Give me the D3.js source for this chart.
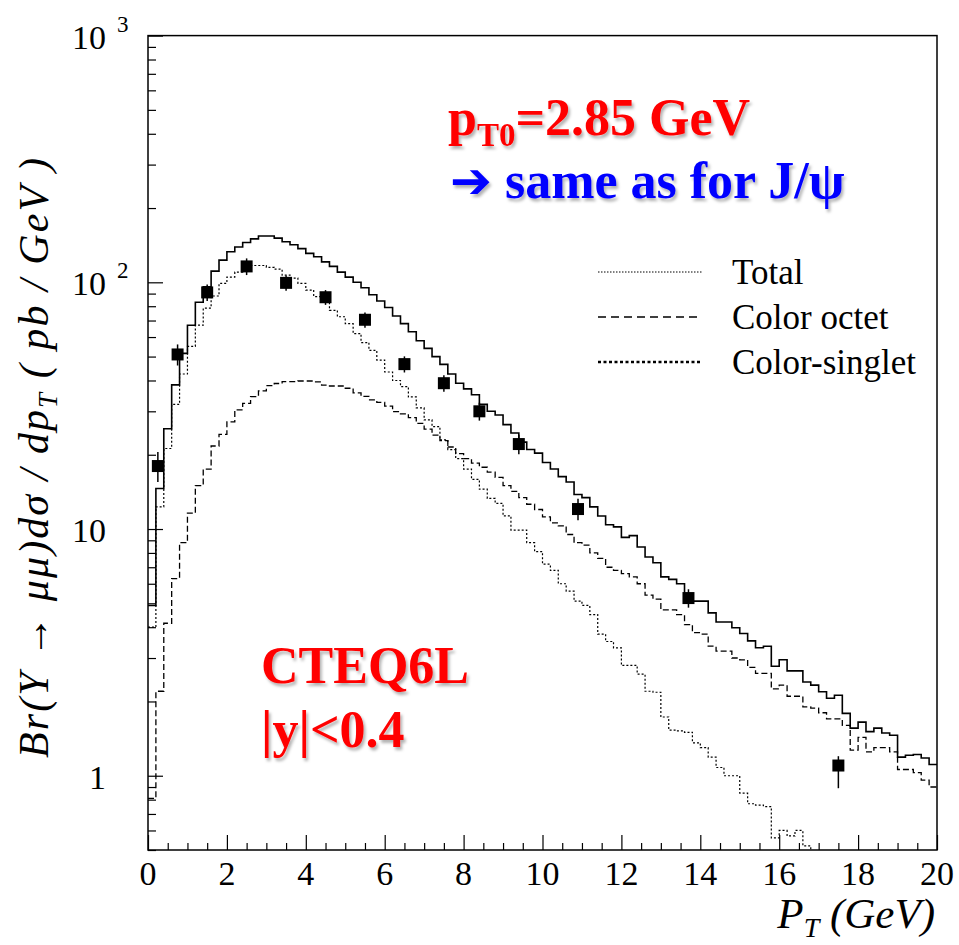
<!DOCTYPE html>
<html>
<head>
<meta charset="utf-8">
<script src="https://cdn.jsdelivr.net/npm/d3@7"></script>
<style>
  body { margin: 0; background: #fff; }
</style>
</head>
<body>
<div id="chart"></div>
<script>
// frame + plot box (pixels)
const FRAME_WIDTH = 959;
const FRAME_HEIGHT = 945;
const PLOT = {left: 148, right: 937, top: 35.6, bottom: 850};
const SERIF = "'Liberation Serif'";

// histogram bins are 0.2 GeV wide, starting at pT = 0
const BIN_W = 0.2;

// total (solid)
const total = [4.9, 14.6, 25.5, 38.4, 51.5, 67, 83, 96, 111, 123,
  133, 139, 145, 150, 154, 154, 151, 146, 142, 137,
  131, 127, 121, 116, 110, 105, 100, 95, 89, 84,
  79, 73, 68, 63, 58, 54, 50, 46.5, 42.5, 39,
  37, 35, 32, 30, 29, 26.5, 24.5, 22.5, 21, 20.3,
  18.6, 17.5, 16.3, 15.5, 13.8, 13.4, 12.3, 11.3, 10.4, 10.2,
  9.25, 9.4, 8.45, 7.7, 7.3, 6.4, 6.25, 6.0, 5.2, 5.1,
  5.1, 4.57, 4.2, 4.2, 3.98, 3.77, 3.52, 3.3, 3.35, 2.78,
  2.95, 2.66, 2.66, 2.4, 2.33, 2.19, 2.06, 2.12, 1.79, 1.56,
  1.65, 1.51, 1.56, 1.49, 1.46, 1.19, 1.21, 1.22, 1.18, 1.11];

// color octet (dashed)
const octet = [0.81, 2.2, 4.15, 6.3, 8.8, 11.6, 15.0, 17.5, 21.7, 24.2,
  27.2, 30.4, 32.3, 34.4, 36.3, 38.1, 38.9, 39.6, 39.6, 39.8,
  39.8, 39.5, 38.3, 38.0, 38.0, 37.2, 35.6, 34.5, 33.4, 32.6,
  31.5, 29.9, 29.3, 28.3, 26.8, 25.4, 24.0, 22.8, 21.5, 20.2,
  19.3, 18.5, 17.8, 17.0, 16.2, 15.0, 14.2, 13.4, 12.6, 12.0,
  11.2, 10.6, 10.3, 9.5, 8.8, 8.6, 8.0, 7.6, 7.0, 6.8,
  6.6, 6.4, 6.0, 5.4, 5.2, 4.7, 4.7, 4.5, 4.1, 3.8,
  3.75, 3.35, 3.2, 3.2, 3.0, 2.95, 2.75, 2.6, 2.6, 2.25,
  2.33, 2.1, 2.1, 1.9, 1.88, 1.8, 1.7, 1.7, 1.6, 1.27,
  1.43, 1.25, 1.3, 1.3, 1.25, 1.06, 1.06, 1.03, 0.96, 0.9];

// color singlet (fine dots) - runs off the bottom after ~17 GeV
const singlet = [4.0, 12.3, 21.2, 32, 42.5, 55, 67, 78.6, 88, 99,
  105, 110, 115, 117, 117, 115, 113, 107, 104, 99,
  93, 87.5, 83, 77, 72.5, 68, 62, 57, 53, 48.4,
  43.3, 40, 37.8, 34.3, 31, 27.7, 26, 23, 21, 19.3,
  17.5, 15.9, 14.5, 13.3, 12.7, 11.3, 9.9, 9.9, 8.8, 8.1,
  7.2, 6.8, 6.0, 5.6, 5.1, 4.9, 4.5, 3.75, 3.5, 3.3,
  2.8, 2.8, 2.58, 2.2, 2.18, 1.73, 1.53, 1.52, 1.5, 1.36,
  1.3, 1.19, 1.08, 1.0, 1.0, 0.85, 0.77, 0.76, 0.75, 0.56,
  0.6, 0.57, 0.6, 0.52, 0.45];

// data points
const dataPt = [0.25, 0.75, 1.5, 2.5, 3.5, 4.5, 5.5, 6.5, 7.5, 8.4, 9.4, 10.9, 13.7, 17.5];
const dataVal = [18, 51, 91, 116, 99.5, 87, 70.5, 46.6, 39, 30, 22.1, 12.05, 5.25, 1.1];
const dataErrUp = [2.5, 5, 7, 9, 7, 6, 5, 3.5, 3, 2.5, 2, 1.2, 0.45, 0.1];
const dataErrDn = [2.5, 5, 7, 9, 7, 6, 5, 3.5, 3, 2.5, 2, 1.2, 0.45, 0.21];

// ticks
const xMajor = [0, 2, 4, 6, 8, 10, 12, 14, 16, 18, 20];
const xMinor = d3.range(0, 20.01, 0.5).filter(v => v % 2 !== 0);
const yMajor = [1, 10, 100, 1000];
const yLabelBase = ["1", "10", "10", "10"];
const yLabelExp = ["", "", "2", "3"];
const yMinor = [0.5, 0.6, 0.7, 0.8, 0.9, 2, 3, 4, 5, 6, 7, 8, 9,
  20, 30, 40, 50, 60, 70, 80, 90, 200, 300, 400, 500, 600, 700, 800, 900];

const legendNames = ["Total", "Color octet", "Color-singlet"];

const FRAME = d3.select("#chart")
  .append("svg")
  .attr("width", FRAME_WIDTH)
  .attr("height", FRAME_HEIGHT);

const X_SCALE = d3.scaleLinear().domain([0, 20]).range([PLOT.left, PLOT.right]);
const Y_SCALE = d3.scaleLog().domain([0.5, 1000]).range([PLOT.bottom, PLOT.top]);

const defs = FRAME.append("defs");
defs.append("clipPath").attr("id", "plotclip")
  .append("rect")
  .attr("x", PLOT.left).attr("y", PLOT.top)
  .attr("width", PLOT.right - PLOT.left)
  .attr("height", PLOT.bottom - PLOT.top);

// soft shadow like the slide text
defs.append("filter").attr("id", "shadow")
  .attr("x", "-10%").attr("y", "-10%").attr("width", "130%").attr("height", "140%")
  .append("feDropShadow")
  .attr("dx", 2).attr("dy", 3).attr("stdDeviation", 1.5)
  .attr("flood-color", "#000").attr("flood-opacity", 0.3);

// axes: ticks point inward
FRAME.append("g")
  .attr("transform", `translate(0,${PLOT.bottom})`)
  .call(d3.axisBottom(X_SCALE).tickValues(xMajor).tickSize(-15).tickFormat(""))
  .call(g => g.select(".domain").remove());
FRAME.append("g")
  .attr("transform", `translate(0,${PLOT.bottom})`)
  .call(d3.axisBottom(X_SCALE).tickValues(xMinor).tickSize(-7).tickFormat(""))
  .call(g => g.select(".domain").remove());
FRAME.append("g")
  .attr("transform", `translate(${PLOT.left},0)`)
  .call(d3.axisLeft(Y_SCALE).tickValues(yMajor).tickSize(-15).tickFormat(""))
  .call(g => g.select(".domain").remove());
FRAME.append("g")
  .attr("transform", `translate(${PLOT.left},0)`)
  .call(d3.axisLeft(Y_SCALE).tickValues(yMinor).tickSize(-8).tickFormat(""))
  .call(g => g.select(".domain").remove());
FRAME.selectAll(".tick line").attr("stroke", "#000").attr("stroke-width", 1.2);

// x tick labels
FRAME.selectAll(".xlab")
  .data(xMajor)
  .enter()
  .append("text")
    .attr("x", d => X_SCALE(d))
    .attr("y", 885)
    .attr("text-anchor", "middle")
    .style("font-family", SERIF)
    .attr("font-size", 34)
    .text(d => d);

// y tick labels (10 with exponent)
yMajor.forEach((v, i) => {
  FRAME.append("text")
    .attr("x", 106)
    .attr("y", Y_SCALE(v) + 13)
    .attr("text-anchor", "end")
    .style("font-family", SERIF)
    .attr("font-size", 34)
    .text(yLabelBase[i]);
  if (yLabelExp[i] !== "") {
    FRAME.append("text")
      .attr("x", 117)
      .attr("y", Y_SCALE(v) - 4)
      .style("font-family", SERIF)
      .attr("font-size", 23)
      .text(yLabelExp[i]);
  }
});

// histograms
function histLine(vals) {
  let pts = vals.map((v, i) => [i * BIN_W, v]);
  pts.push([vals.length * BIN_W, vals[vals.length - 1]]);
  return d3.line()
    .x(d => X_SCALE(d[0]))
    .y(d => Y_SCALE(d[1]))
    .curve(d3.curveStepAfter)(pts);
}

const plotG = FRAME.append("g").attr("clip-path", "url(#plotclip)");

plotG.append("path")
  .attr("d", histLine(singlet))
  .attr("fill", "none")
  .attr("stroke", "#000")
  .attr("stroke-width", 1.2)
  .attr("stroke-dasharray", "2,2");

plotG.append("path")
  .attr("d", histLine(octet))
  .attr("fill", "none")
  .attr("stroke", "#000")
  .attr("stroke-width", 1.3)
  .attr("stroke-dasharray", "6,3");

plotG.append("path")
  .attr("d", histLine(total))
  .attr("fill", "none")
  .attr("stroke", "#000")
  .attr("stroke-width", 1.6);

// data points with error bars
dataPt.forEach((p, i) => {
  plotG.append("line")
    .attr("x1", X_SCALE(p)).attr("x2", X_SCALE(p))
    .attr("y1", Y_SCALE(dataVal[i] + dataErrUp[i]))
    .attr("y2", Y_SCALE(dataVal[i] - dataErrDn[i]))
    .attr("stroke", "#000")
    .attr("stroke-width", 1.5);
  plotG.append("rect")
    .attr("x", X_SCALE(p) - 6)
    .attr("y", Y_SCALE(dataVal[i]) - 6)
    .attr("width", 12)
    .attr("height", 12)
    .attr("fill", "#000");
});

// frame box
FRAME.append("rect")
  .attr("x", PLOT.left).attr("y", PLOT.top)
  .attr("width", PLOT.right - PLOT.left)
  .attr("height", PLOT.bottom - PLOT.top)
  .attr("fill", "none")
  .attr("stroke", "#000")
  .attr("stroke-width", 1.5);

// legend
const legY = [272, 317, 362];
const legDash = ["1.5,1.5", "8,5", "3,2.5"];
const legWidth = [1, 1.4, 2.6];
legendNames.forEach((name, i) => {
  FRAME.append("line")
    .attr("x1", 598).attr("x2", 702)
    .attr("y1", legY[i]).attr("y2", legY[i])
    .attr("stroke", "#000")
    .attr("stroke-width", legWidth[i])
    .attr("stroke-dasharray", legDash[i]);
  FRAME.append("text")
    .attr("x", 732)
    .attr("y", legY[i] + 12)
    .style("font-family", SERIF)
    .attr("font-size", 35)
    .text(name);
});

// axis titles
FRAME.append("text")
  .attr("x", 935)
  .attr("y", 928)
  .attr("text-anchor", "end")
  .style("font-family", SERIF)
  .attr("font-size", 43)
  .attr("font-style", "italic")
  .call(t => {
    t.append("tspan").text("P");
    t.append("tspan").attr("font-size", 28).attr("dy", 9).text("T");
    t.append("tspan").attr("dy", -9).text(" (GeV)");
  });

FRAME.append("text")
  .attr("transform", "translate(48,758) rotate(-90)")
  .style("font-family", SERIF)
  .attr("font-size", 42)
  .attr("font-style", "italic")
  .attr("textLength", 600)
  .attr("lengthAdjust", "spacing")
  .call(t => {
    t.append("tspan").text("Br(Υ \u2192 μμ)dσ / dp");
    t.append("tspan").attr("font-size", 27).attr("dy", 9).text("T");
    t.append("tspan").attr("dy", -9).text(" ( pb / GeV )");
  });

// annotations
FRAME.append("text")
  .attr("x", 448).attr("y", 135)
  .style("font-family", SERIF)
  .attr("font-size", 52).attr("font-weight", "bold")
  .attr("fill", "#ff0000")
  .attr("filter", "url(#shadow)")
  .call(t => {
    t.append("tspan").text("p");
    t.append("tspan").attr("font-size", 33).attr("dy", 11).text("T0");
    t.append("tspan").attr("dy", -11).text("=2.85 GeV");
  });

FRAME.append("text")
  .attr("x", 450).attr("y", 198)
  .style("font-family", SERIF)
  .attr("font-size", 52).attr("font-weight", "bold")
  .attr("fill", "#0000ff")
  .attr("filter", "url(#shadow)")
  .call(t => {
    t.append("tspan").style("font-family", "'DejaVu Sans'").attr("font-size", 50).text("\u2794");
    t.append("tspan").text(" same as for J/ψ");
  });

FRAME.append("text")
  .attr("x", 261).attr("y", 683)
  .style("font-family", SERIF)
  .attr("font-size", 52).attr("font-weight", "bold")
  .attr("fill", "#ff0000")
  .attr("filter", "url(#shadow)")
  .text("CTEQ6L");

FRAME.append("text")
  .attr("x", 261).attr("y", 747)
  .style("font-family", SERIF)
  .attr("font-size", 52).attr("font-weight", "bold")
  .attr("fill", "#ff0000")
  .attr("filter", "url(#shadow)")
  .text("|y|<0.4");
</script>
</body>
</html>
